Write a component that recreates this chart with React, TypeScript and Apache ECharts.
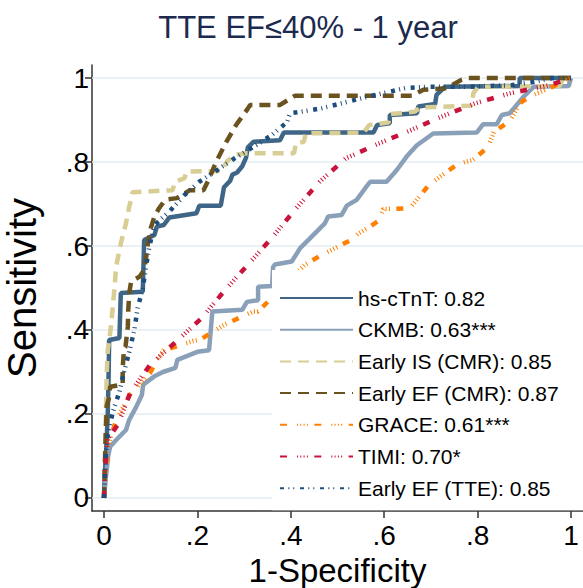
import React, { useEffect, useRef } from "react";
import * as echarts from "echarts";

const TITLE = "TTE EF≤40% - 1 year";
const X_NAME = "1-Specificity";
const Y_NAME = "Sensitivity";
const TICK_VALUES = [0, 0.2, 0.4, 0.6, 0.8, 1];
const TICK_LABELS = ["0", ".2", ".4", ".6", ".8", "1"];
const SERIES_NAMES = [
  "hs-cTnT: 0.82",
  "CKMB: 0.63***",
  "Early IS (CMR): 0.85",
  "Early EF (CMR): 0.87",
  "GRACE: 0.61***",
  "TIMI: 0.70*",
  "Early EF (TTE): 0.85",
];

const hsCtnt: [number, number][] = [
  [0, 0], [0.002, 0.06], [0.005, 0.12], [0.008, 0.2], [0.01, 0.3], [0.011, 0.376], [0.033, 0.381],
  [0.036, 0.488], [0.083, 0.491], [0.086, 0.614], [0.108, 0.626], [0.113, 0.646], [0.128, 0.65],
  [0.14, 0.668], [0.198, 0.678], [0.204, 0.696], [0.25, 0.696], [0.257, 0.74], [0.27, 0.755],
  [0.275, 0.77], [0.285, 0.775], [0.296, 0.79], [0.304, 0.81], [0.308, 0.835], [0.32, 0.848],
  [0.377, 0.852], [0.385, 0.87], [0.577, 0.87], [0.585, 0.888], [0.612, 0.892], [0.612, 0.912],
  [0.67, 0.916], [0.673, 0.932], [0.709, 0.938], [0.712, 0.96], [0.73, 0.979], [0.89, 0.981],
  [0.89, 1], [1, 1],
];
const ckmb: [number, number][] = [
  [0, 0], [0.004, 0.05], [0.009, 0.1], [0.013, 0.122], [0.026, 0.138], [0.047, 0.162], [0.054, 0.186],
  [0.069, 0.217], [0.081, 0.245], [0.084, 0.27], [0.107, 0.289], [0.126, 0.3], [0.153, 0.31],
  [0.157, 0.329], [0.2, 0.348], [0.225, 0.352], [0.232, 0.444], [0.296, 0.448], [0.306, 0.467],
  [0.33, 0.471], [0.33, 0.503], [0.36, 0.505], [0.362, 0.55], [0.366, 0.556], [0.402, 0.563],
  [0.42, 0.595], [0.441, 0.618], [0.473, 0.654], [0.48, 0.67], [0.509, 0.674], [0.52, 0.696],
  [0.541, 0.71], [0.559, 0.737], [0.57, 0.753], [0.605, 0.753], [0.627, 0.781], [0.648, 0.813],
  [0.67, 0.84], [0.705, 0.868], [0.798, 0.87], [0.812, 0.89], [0.841, 0.89], [0.852, 0.912],
  [0.869, 0.916], [0.898, 0.955], [0.92, 0.979], [0.995, 0.981], [1, 1],
];
const earlyIsCmr: [number, number][] = [
  [0, 0], [0.002, 0.1], [0.004, 0.2], [0.006, 0.3], [0.008, 0.352], [0.015, 0.408], [0.022, 0.495],
  [0.026, 0.551], [0.036, 0.606], [0.047, 0.654], [0.054, 0.694], [0.058, 0.71], [0.061, 0.728],
  [0.147, 0.733], [0.152, 0.753], [0.172, 0.761], [0.177, 0.777], [0.252, 0.779], [0.263, 0.801],
  [0.28, 0.817], [0.306, 0.821], [0.407, 0.821], [0.411, 0.845], [0.428, 0.848], [0.432, 0.868],
  [0.556, 0.87], [0.568, 0.888], [0.609, 0.894], [0.614, 0.914], [0.666, 0.92], [0.677, 0.93],
  [0.786, 0.934], [0.791, 0.964], [0.801, 0.979], [0.976, 0.981], [0.983, 1], [1, 1],
];
const earlyEfCmr: [number, number][] = [
  [0, 0], [0.002, 0.08], [0.004, 0.16], [0.006, 0.22], [0.011, 0.24], [0.013, 0.265], [0.04, 0.27],
  [0.04, 0.31], [0.043, 0.356], [0.046, 0.36], [0.051, 0.408], [0.052, 0.448], [0.054, 0.487],
  [0.058, 0.515], [0.076, 0.527], [0.086, 0.543], [0.09, 0.571], [0.094, 0.606], [0.1, 0.642],
  [0.108, 0.67], [0.118, 0.69], [0.131, 0.71], [0.156, 0.714], [0.184, 0.733], [0.213, 0.733],
  [0.225, 0.76], [0.24, 0.8], [0.263, 0.85], [0.284, 0.89], [0.306, 0.924], [0.313, 0.936],
  [0.377, 0.936], [0.409, 0.958], [0.66, 0.958], [0.684, 0.972], [0.735, 0.976], [0.764, 0.995],
  [0.78, 1], [1, 1],
];
const grace: [number, number][] = [
  [0, 0], [0.004, 0.06], [0.008, 0.12], [0.013, 0.14], [0.026, 0.185], [0.055, 0.245], [0.098, 0.297],
  [0.128, 0.354], [0.141, 0.356], [0.191, 0.374], [0.206, 0.377], [0.26, 0.414], [0.32, 0.444],
  [0.33, 0.444], [0.43, 0.555], [0.466, 0.579], [0.532, 0.616], [0.545, 0.63], [0.565, 0.643],
  [0.588, 0.66], [0.598, 0.688], [0.655, 0.69], [0.697, 0.747], [0.757, 0.795], [0.79, 0.805],
  [0.822, 0.835], [0.835, 0.872], [0.87, 0.898], [0.89, 0.94], [0.912, 0.956], [0.96, 0.979],
  [0.975, 0.987], [1, 1],
];
const timi: [number, number][] = [
  [0, 0], [0.003, 0.08], [0.008, 0.14], [0.03, 0.175], [0.056, 0.25], [0.098, 0.316], [0.155, 0.373],
  [0.209, 0.428], [0.259, 0.495], [0.311, 0.559], [0.36, 0.62], [0.41, 0.688], [0.462, 0.753],
  [0.518, 0.809], [0.58, 0.84], [0.657, 0.876], [0.727, 0.91], [0.796, 0.94], [0.871, 0.964],
  [0.955, 0.983], [0.975, 0.991], [1, 1],
];
const earlyEfTte: [number, number][] = [
  [0, 0], [0.002, 0.05], [0.004, 0.102], [0.008, 0.15], [0.019, 0.205], [0.033, 0.253], [0.043, 0.301],
  [0.054, 0.348], [0.065, 0.4], [0.072, 0.452], [0.083, 0.499], [0.09, 0.551], [0.097, 0.598],
  [0.108, 0.65], [0.14, 0.682], [0.172, 0.721], [0.204, 0.753], [0.243, 0.781], [0.28, 0.809],
  [0.32, 0.836], [0.359, 0.864], [0.392, 0.895], [0.398, 0.916], [0.423, 0.92], [0.466, 0.928],
  [0.509, 0.94], [0.552, 0.952], [0.598, 0.964], [0.645, 0.976], [0.691, 0.979], [0.773, 0.979],
  [0.873, 0.983], [0.916, 0.99], [0.96, 1], [1, 1],
];

const SERIES_DATA = [hsCtnt, ckmb, earlyIsCmr, earlyEfCmr, grace, timi, earlyEfTte];
const SERIES_COLORS = ["#3f6687", "#8aa0b8", "#d8ce93", "#6b5320", "#ff8000", "#c8133c", "#1d4d7e"];
const DASH_LONG = [11, 7];
const DASH_TICKS = [7, 10, 1, 2.3, 1, 2.3, 1, 2.3, 1, 6.4];
const DASH_DOT = [4, 4.3, 1, 4, 1, 5.7];
const SERIES_DASH: any[] = ["solid", "solid", DASH_LONG, DASH_LONG, DASH_TICKS, DASH_TICKS, DASH_DOT];

const FONT = "Liberation Sans, Arial, Helvetica, sans-serif";

function tickLabel(v: number): string {
  for (let i = 0; i < TICK_VALUES.length; i++) {
    if (Math.abs(TICK_VALUES[i] - v) < 1e-6) return TICK_LABELS[i];
  }
  return "";
}

export default function App() {
  const ref = useRef<HTMLDivElement>(null);
  useEffect(() => {
    if (!ref.current) return;
    const chart = echarts.init(ref.current, undefined, { renderer: "svg" });
    const axisColor = "#333333";
    const series: any[] = SERIES_NAMES.map((name, i) => ({
      name,
      type: "line",
      data: SERIES_DATA[i],
      showSymbol: false,
      symbol: "none",
      z: 2,
      lineStyle: { color: SERIES_COLORS[i], width: 4.5, type: SERIES_DASH[i], cap: "butt" },
      itemStyle: { color: SERIES_COLORS[i] },
    }));
    series.push({
      name: "grid",
      type: "line",
      data: [],
      silent: true,
      markLine: {
        silent: true,
        symbol: "none",
        z: 1,
        label: { show: false },
        lineStyle: { color: "#e3ecf0", width: 1.5, type: "solid" },
        data: TICK_VALUES.map((v) => ({ yAxis: v })),
      },
    });
    chart.setOption({
      animation: false,
      backgroundColor: "#ffffff",
      title: {
        text: TITLE,
        left: 303,
        top: 7,
        textAlign: "center",
        textStyle: { fontSize: 31, fontWeight: "normal", color: "#1b2a4e", fontFamily: FONT },
      },
      grid: { left: 92, right: 0, top: 65, bottom: 77, containLabel: false, outerBoundsMode: "none" },
      xAxis: {
        type: "value",
        min: -0.0257,
        max: 1.0257,
        axisLine: { show: true, onZero: false, lineStyle: { color: axisColor, width: 1.5 } },
        axisTick: { show: true, customValues: TICK_VALUES, length: 7, lineStyle: { color: axisColor, width: 1.5 } },
        axisLabel: { customValues: TICK_VALUES, formatter: tickLabel, fontSize: 28, color: "#000", margin: 10, fontFamily: FONT },
        splitLine: { show: false },
        name: X_NAME,
        nameLocation: "middle",
        nameGap: 32,
        nameTextStyle: { fontSize: 33, lineHeight: 33, color: "#000", fontFamily: FONT },
      },
      yAxis: {
        type: "value",
        min: -0.031,
        max: 1.031,
        axisLine: { show: true, onZero: false, lineStyle: { color: axisColor, width: 1.5 } },
        axisTick: { show: true, customValues: TICK_VALUES, length: 7, lineStyle: { color: axisColor, width: 1.5 } },
        axisLabel: { customValues: TICK_VALUES, formatter: tickLabel, fontSize: 28, color: "#000", margin: 3, fontFamily: FONT },
        splitLine: { show: false },
        name: Y_NAME,
        nameLocation: "middle",
        nameGap: 50,
        nameTextStyle: { fontSize: 40, color: "#000", fontFamily: FONT },
      },
      legend: {
        orient: "vertical",
        left: 272,
        top: 270,
        padding: [17, 60, 11, 7],
        backgroundColor: "#ffffff",
        itemWidth: 73,
        itemHeight: 14,
        itemGap: 9.7,
        itemTextGap: 13,
        selectedMode: false,
        data: SERIES_NAMES,
        itemStyle: { opacity: 0, color: "rgba(0,0,0,0)", borderWidth: 0 },
        textStyle: { fontSize: 21, lineHeight: 22, color: "#000", fontFamily: FONT },
        z: 4,
      },
      series,
    });
    return () => chart.dispose();
  }, []);
  return <div ref={ref} style={{ position: "fixed", left: 0, top: 0, width: 583, height: 588 }} />;
}
